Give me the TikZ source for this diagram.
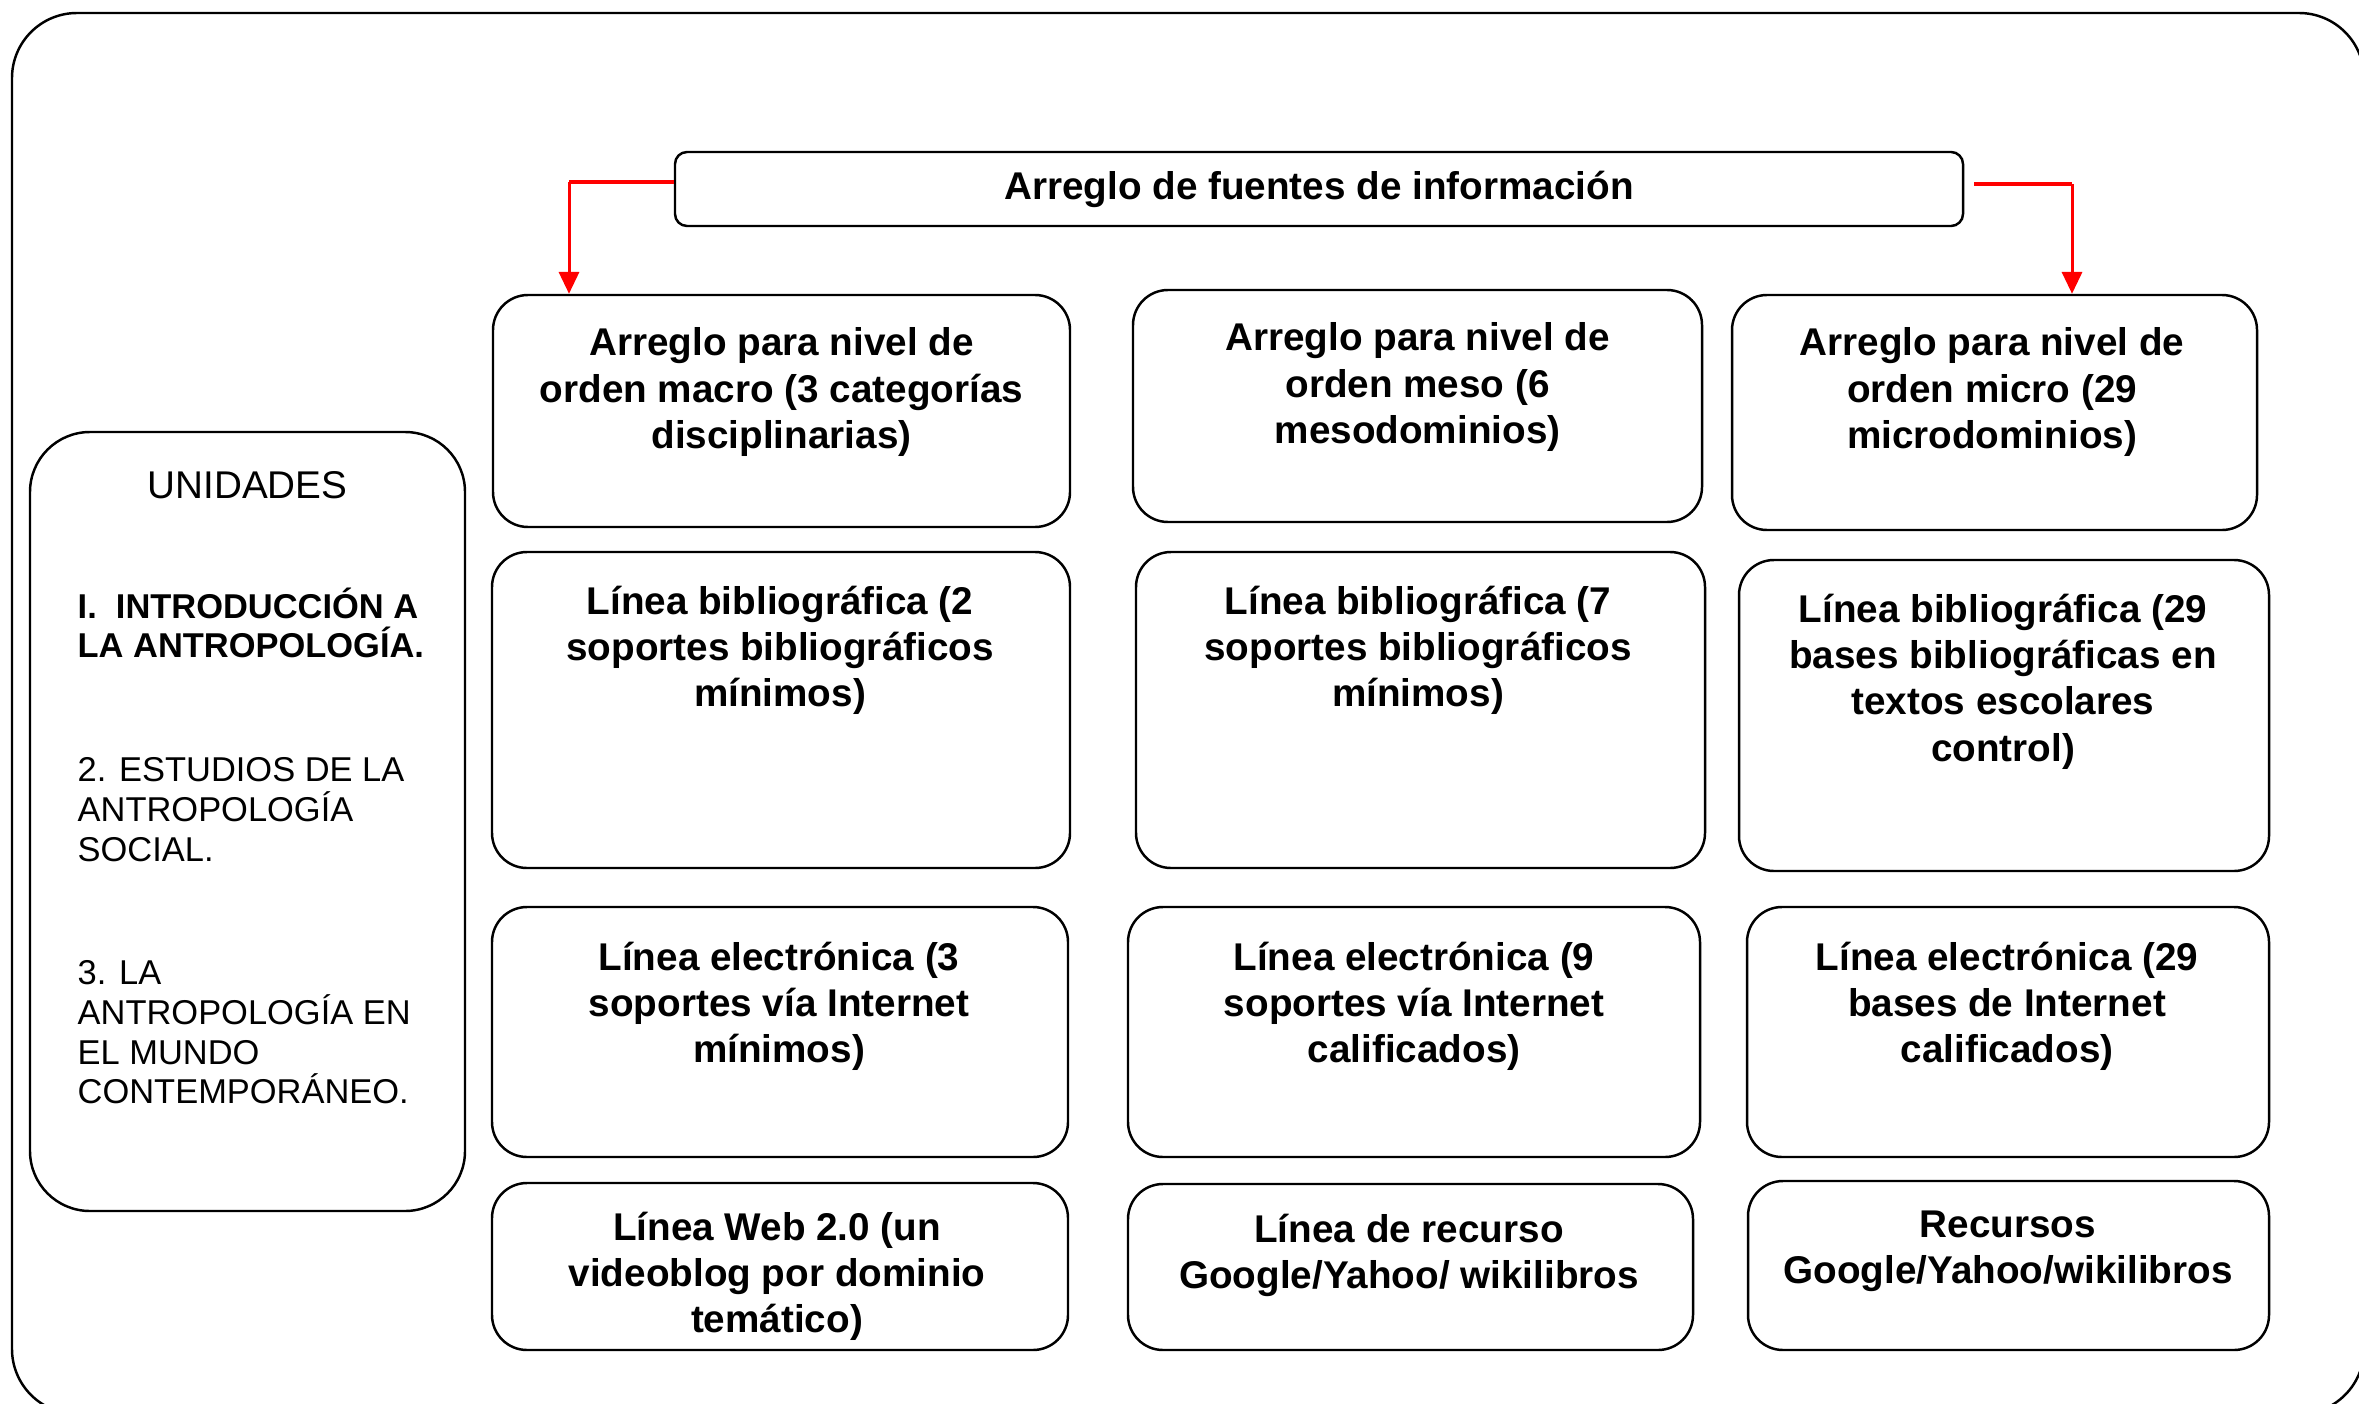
\documentclass[tikz,border=0pt]{standalone}
\usepackage{fontspec}
\setmainfont{Liberation Sans}
\usetikzlibrary{arrows.meta}

\begin{document}
\begin{tikzpicture}
        \tikzstyle{every node}=[font=\fontsize{11}{13.2}\selectfont]
        \tikzstyle{cell}=[draw, line width=0.7pt, rounded corners=0.35cm, inner sep=0pt]
        \tikzstyle{txt}=[anchor=north, align=center, inner sep=0pt, font=\fontsize{11}{13.2}\selectfont\bfseries, execute at begin node={\vphantom{Í}}]
        \tikzstyle{unit}=[anchor=north west, align=left, inner sep=0pt, font=\fontsize{9.8}{11.3}\selectfont, execute at begin node={\vphantom{Í}}]
        \tikzstyle{redline}=[red, line width=1.4pt]
        \tikzstyle{redarrow}=[red, line width=0.85pt, -{Triangle[width=5.7pt,length=6.2pt]}]

        \useasboundingbox (0,0) rectangle (23.59,-14.03);
        \draw [line width=0.7pt, rounded corners=0.65cm] (0.12,-0.13) rectangle (23.64,-14.14);

        \node[cell, rounded corners=0.12cm, minimum width=12.88cm, minimum height=0.74cm, font=\fontsize{11}{13.2}\selectfont\bfseries] (fuentes) at (13.19,-1.89) {Arreglo de fuentes de información};

        \node[cell, rounded corners=0.6cm, minimum width=4.35cm, minimum height=7.79cm] (units) at (2.475,-8.215) {};
        \node[txt, font=\fontsize{11}{13.2}\selectfont] (unidades) at (2.475,-4.64) {UNIDADES};
        \node[unit, font=\fontsize{9.8}{11.3}\selectfont\bfseries] (unit1) at (0.77,-5.87) {I.\ \ INTRODUCCIÓN A\\LA ANTROPOLOGÍA.};
        \node[unit] (unit2) at (0.77,-7.57) {2. ESTUDIOS DE LA\\ANTROPOLOGÍA\\SOCIAL.};
        \node[unit] (unit3) at (0.77,-9.60) {3. LA\\ANTROPOLOGÍA EN\\EL MUNDO\\CONTEMPORÁNEO.};

        \node[cell, minimum width=5.77cm, minimum height=2.32cm] (macro) at (7.815,-4.11) {};
        \node[cell, minimum width=5.78cm, minimum height=3.16cm] (bibmacro) at (7.81,-7.10) {};
        \node[cell, minimum width=5.76cm, minimum height=2.50cm] (elecmacro) at (7.80,-10.32) {};
        \node[cell, minimum width=5.76cm, minimum height=1.67cm] (webmacro) at (7.80,-12.665) {};

        \node[cell, minimum width=5.69cm, minimum height=2.32cm] (meso) at (14.175,-4.06) {};
        \node[cell, minimum width=5.69cm, minimum height=3.16cm] (bibmeso) at (14.205,-7.10) {};
        \node[cell, minimum width=5.72cm, minimum height=2.50cm] (elecmeso) at (14.14,-10.32) {};
        \node[cell, minimum width=5.65cm, minimum height=1.66cm] (recmeso) at (14.105,-12.67) {};

        \node[cell, minimum width=5.25cm, minimum height=2.35cm] (micro) at (19.945,-4.125) {};
        \node[cell, minimum width=5.30cm, minimum height=3.11cm] (bibmicro) at (20.04,-7.155) {};
        \node[cell, minimum width=5.22cm, minimum height=2.50cm] (elecmicro) at (20.08,-10.32) {};
        \node[cell, minimum width=5.21cm, minimum height=1.69cm] (recmicro) at (20.085,-12.655) {};

        \node[txt] (macrot) at (7.815,-3.27) {Arreglo para nivel de\\orden macro (3 categorías\\disciplinarias)};
        \node[txt] (bibmacrot) at (7.80,-5.85) {Línea bibliográfica (2\\soportes bibliográficos\\mínimos)};
        \node[txt] (elecmacrot) at (7.79,-9.41) {Línea electrónica (3\\soportes vía Internet\\mínimos)};
        \node[txt] (webmacrot) at (7.77,-12.11) {Línea Web 2.0 (un\\videoblog por dominio\\temático)};

        \node[txt] (mesot) at (14.175,-3.22) {Arreglo para nivel de\\orden meso (6\\mesodominios)};
        \node[txt] (bibmesot) at (14.18,-5.85) {Línea bibliográfica (7\\soportes bibliográficos\\mínimos)};
        \node[txt] (elecmesot) at (14.14,-9.41) {Línea electrónica (9\\soportes vía Internet\\calificados)};
        \node[txt] (recmesot) at (14.09,-12.13) {Línea de recurso\\Google/Yahoo/ wikilibros};

        \node[txt] (microt) at (19.92,-3.27) {Arreglo para nivel de\\orden micro (29\\microdominios)};
        \node[txt] (bibmicrot) at (20.03,-5.93) {Línea bibliográfica (29\\bases bibliográficas en\\textos escolares\\control)};
        \node[txt] (elecmicrot) at (20.07,-9.41) {Línea electrónica (29\\bases de Internet\\calificados)};
        \node[txt] (recmicrot) at (20.08,-12.10) {Recursos\\Google/Yahoo/wikilibros};

        \coordinate (lcorner) at (5.69,-1.82);
        \coordinate (rcorner) at (20.72,-1.84);
        \draw [redline] (fuentes.west |- lcorner) -- (lcorner);
        \draw [redarrow] (lcorner) -- (lcorner |- macro.north);
        \draw [redline] ([xshift=0.1cm]fuentes.east |- rcorner) -- (rcorner);
        \draw [redarrow] (rcorner) -- (rcorner |- micro.north);
\end{tikzpicture}
\end{document}
